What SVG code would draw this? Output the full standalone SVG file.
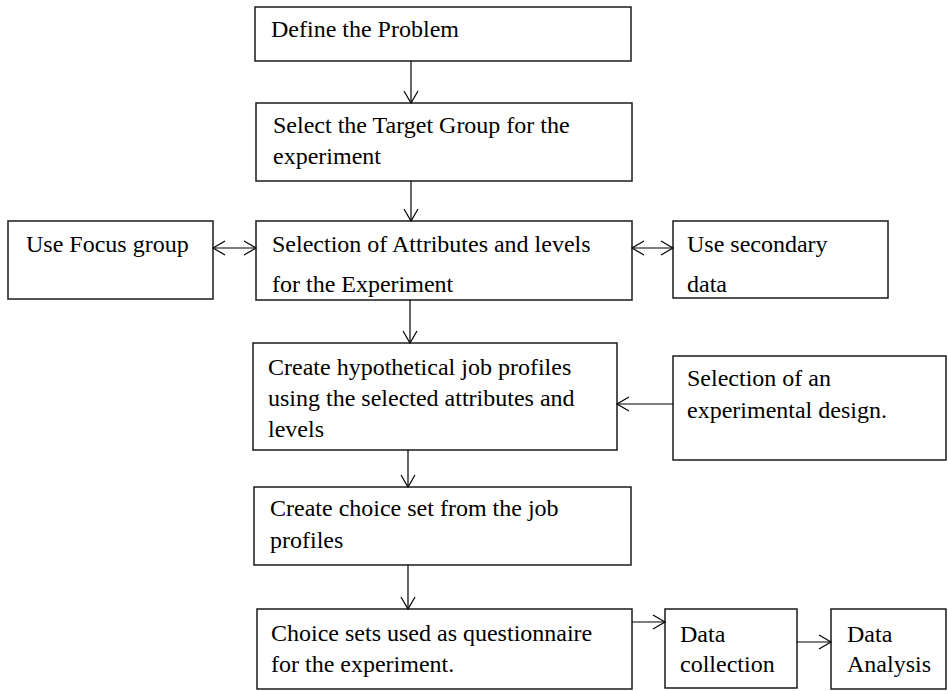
<svg xmlns="http://www.w3.org/2000/svg" width="948" height="691" viewBox="0 0 948 691">
<style>
.box{fill:#fff;stroke:#1a1a1a;stroke-width:1.5}
.t{font-family:"Liberation Serif","Times New Roman",serif;font-size:24px;fill:#000}
.c{fill:none;stroke:#000;stroke-width:1.2}
</style>
<defs>
<marker id="ah" markerUnits="userSpaceOnUse" viewBox="-14 -9 16 18" refX="0" refY="0" markerWidth="16" markerHeight="18" orient="auto-start-reverse">
<path d="M-12,-7 L0,0 L-12,7" fill="none" stroke="#000" stroke-width="1.2"/>
</marker>
</defs>
<rect width="948" height="691" fill="#fff"/>
<g id="n1"><rect class="box" x="255" y="7" width="376" height="54"/><text class="t" x="271" y="37">Define the Problem</text></g>
<g id="n2"><rect class="box" x="256" y="103" width="376" height="78"/><text class="t" x="273" y="133">Select the Target Group for the</text><text class="t" x="273" y="164">experiment</text></g>
<g id="n3"><rect class="box" x="8" y="221" width="205" height="78"/><text class="t" x="26" y="252">Use Focus group</text></g>
<g id="n4"><rect class="box" x="256" y="221" width="376" height="79"/><text class="t" x="272" y="252">Selection of Attributes and levels</text><text class="t" x="272" y="292">for the Experiment</text></g>
<g id="n5"><rect class="box" x="673" y="221" width="215" height="77"/><text class="t" x="687" y="252">Use secondary</text><text class="t" x="687" y="292">data</text></g>
<g id="n6"><rect class="box" x="253" y="343" width="364" height="107"/><text class="t" x="268" y="375">Create hypothetical job profiles</text><text class="t" x="268" y="406">using the selected attributes and</text><text class="t" x="268" y="437">levels</text></g>
<g id="n7"><rect class="box" x="673" y="356" width="273" height="104"/><text class="t" x="687" y="386">Selection of an</text><text class="t" x="687" y="418">experimental design.</text></g>
<g id="n8"><rect class="box" x="254" y="487" width="377" height="78"/><text class="t" x="270" y="516">Create choice set from the job</text><text class="t" x="270" y="548">profiles</text></g>
<g id="n9"><rect class="box" x="257" y="609" width="375" height="80"/><text class="t" x="271" y="641">Choice sets used as questionnaire</text><text class="t" x="271" y="672">for the experiment.</text></g>
<g id="n10"><rect class="box" x="665" y="609" width="132" height="79"/><text class="t" x="680" y="642">Data</text><text class="t" x="680" y="672">collection</text></g>
<g id="n11"><rect class="box" x="831" y="609" width="115" height="80"/><text class="t" x="847" y="642">Data</text><text class="t" x="847" y="672">Analysis</text></g>
<g id="connectors">
<line class="c" x1="411" y1="61" x2="411" y2="103" marker-end="url(#ah)"/>
<line class="c" x1="411" y1="181" x2="411" y2="221" marker-end="url(#ah)"/>
<line class="c" x1="213" y1="248" x2="256" y2="248" marker-start="url(#ah)" marker-end="url(#ah)"/>
<line class="c" x1="632" y1="248" x2="673" y2="248" marker-start="url(#ah)" marker-end="url(#ah)"/>
<line class="c" x1="410" y1="300" x2="410" y2="343" marker-end="url(#ah)"/>
<line class="c" x1="673" y1="404" x2="617" y2="404" marker-end="url(#ah)"/>
<line class="c" x1="408" y1="450" x2="408" y2="487" marker-end="url(#ah)"/>
<line class="c" x1="408" y1="565" x2="408" y2="609" marker-end="url(#ah)"/>
<line class="c" x1="632" y1="622" x2="665" y2="622" marker-end="url(#ah)"/>
<line class="c" x1="797" y1="642" x2="831" y2="642" marker-end="url(#ah)"/>
</g>
</svg>
